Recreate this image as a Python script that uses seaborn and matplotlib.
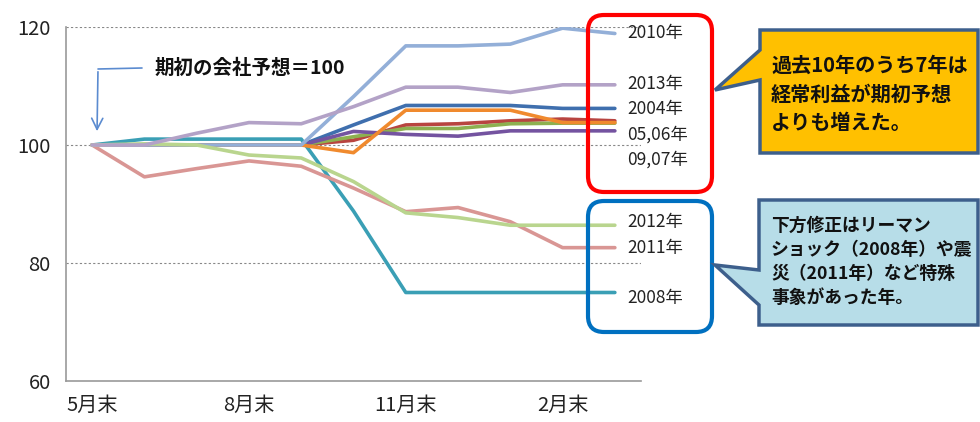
import numpy as np
import pandas as pd
import matplotlib
matplotlib.use("Agg")
import matplotlib.pyplot as plt
import seaborn as sns
from matplotlib.patches import FancyBboxPatch, Polygon, FancyArrowPatch

# ---- data ----
months = ["5月末", "6月末", "7月末", "8月末", "9月末", "10月末", "11月末", "12月末", "1月末", "2月末", "3月末"]
shown_ticks = ["5月末", "8月末", "11月末", "2月末"]

y2004 = [100, 100, 100, 100, 100, 103.4, 106.7, 106.7, 106.7, 106.2, 106.2]
y2005 = [100, 100, 100, 100, 100, 100.8, 103.4, 103.6, 104.1, 104.4, 104.1]
y2006 = [100, 100, 100, 100, 100, 101.4, 102.8, 102.8, 103.6, 103.7, 103.7]
y2007 = [100, 100, 100, 100, 100, 102.3, 101.8, 101.5, 102.4, 102.4, 102.4]
y2008 = [100, 101, 101, 101, 101, 88.8, 75.0, 75.0, 75.0, 75.0, 75.0]
y2009 = [100, 100, 100, 100, 100, 98.7, 105.9, 105.9, 105.9, 103.8, 103.8]
y2010 = [100, 100, 100, 100, 100, 108.2, 116.8, 116.8, 117.1, 119.8, 118.9]
y2011 = [100, 94.6, 96.0, 97.3, 96.4, 92.7, 88.7, 89.4, 87.0, 82.6, 82.6]
y2012 = [100, 100.2, 100, 98.3, 97.8, 93.8, 88.5, 87.7, 86.4, 86.4, 86.4]
y2013 = [100, 100, 102.0, 103.8, 103.6, 106.5, 109.8, 109.8, 108.9, 110.2, 110.2]

series = {
    "2004": y2004, "2005": y2005, "2006": y2006, "2007": y2007, "2008": y2008,
    "2009": y2009, "2010": y2010, "2011": y2011, "2012": y2012, "2013": y2013,
}
colors = {
    "2004": "#3F6FAE", "2005": "#B84440", "2006": "#8DB050", "2007": "#7453A0",
    "2008": "#3A9FB5", "2009": "#F08A2E", "2010": "#93AFD8", "2011": "#D99694",
    "2012": "#B9D58E", "2013": "#B3A2C7",
}

rows = []
for yr, vals in series.items():
    for i, v in enumerate(vals):
        rows.append({"year": yr, "pos": i, "value": v})
df = pd.DataFrame(rows)

# ---- figure ----
sns.set_style("white")
plt.rcParams["font.family"] = ["Noto Sans CJK JP", "DejaVu Sans"]

W, H = 980, 422
fig = plt.figure(figsize=(W / 100, H / 100), dpi=100)
ax = fig.add_axes([66 / W, 1 - 381 / H, (641 - 66) / W, (381 - 27) / H])

sns.lineplot(data=df, x="pos", y="value", hue="year", palette=colors,
             linewidth=2.6, legend=False, ax=ax, sort=False)

ax.set_xlim(-0.5, len(months) - 0.5)
ax.set_ylim(60, 120)
ax.set_yticks([60, 80, 100, 120])
ax.set_yticklabels(["60", "80", "100", "120"], fontsize=14.5, color="#222222")
ax.set_xticks([months.index(m) for m in shown_ticks])
ax.set_xticklabels(shown_ticks, fontsize=14.5, color="#222222")
ax.set_xticks(np.arange(-0.5, len(months), 1.0), minor=True)
ax.tick_params(axis="x", which="major", length=0, pad=10)
ax.tick_params(axis="x", which="minor", length=6, color="#999999", width=1, direction="out")
ax.tick_params(axis="y", length=7, color="#999999", width=1, direction="out", pad=4)
ax.set_xlabel("")
ax.set_ylabel("")
for y in [80, 100, 120]:
    ax.axhline(y, color="#888888", lw=0.8, ls=(0, (2, 2)), zorder=0)
for s in ["top", "right"]:
    ax.spines[s].set_visible(False)
for s in ["left", "bottom"]:
    ax.spines[s].set_color("#999999")
    ax.spines[s].set_linewidth(1.2)

# ---- overlay in pixel coordinates ----
ov = fig.add_axes([0, 0, 1, 1], facecolor="none")
ov.set_xlim(0, W)
ov.set_ylim(H, 0)
ov.axis("off")

# arrow annotation
ov.plot([142, 98], [68, 69], color="#5B8BD0", lw=1.2)
ov.add_patch(FancyArrowPatch((98, 69), (97, 134), arrowstyle="->,head_width=4,head_length=8",
                             color="#5B8BD0", lw=1.2, mutation_scale=1))
ov.text(155, 68, "期初の会社予想＝100", fontsize=14, fontweight="bold", va="center", ha="left",
        color="#111111")

# red and blue rounded boxes
ov.add_patch(FancyBboxPatch((588, 15), 124, 177, boxstyle="round,pad=0,rounding_size=16",
                            fill=False, ec="#FF0000", lw=3))
ov.add_patch(FancyBboxPatch((588, 201), 124, 131, boxstyle="round,pad=0,rounding_size=16",
                            fill=False, ec="#0070C0", lw=3))

# year labels
labels = [("2010年", 33), ("2013年", 84), ("2004年", 109), ("05,06年", 135), ("09,07年", 160),
          ("2012年", 222), ("2011年", 248), ("2008年", 298)]
for t, yy in labels:
    ov.text(627, yy, t, fontsize=12.5, va="center", ha="left", color="#222222")

# orange callout
ov.add_patch(Polygon([(760, 30), (978, 30), (978, 153), (760, 153), (760, 80), (715, 90), (760, 50)],
                     closed=True, fc="#FFC000", ec="#3D5F8C", lw=2.5, joinstyle="miter"))
ov.text(771, 94, "過去10年のうち7年は\n経常利益が期初予想\nよりも増えた。", fontsize=14.5,
        fontweight="bold", va="center", ha="left", color="#111111", linespacing=1.45)

# light blue callout
ov.add_patch(Polygon([(759, 200), (978, 200), (978, 325), (759, 325), (759, 305), (715, 265), (759, 270)],
                     closed=True, fc="#B7DDE8", ec="#3D5F8C", lw=2.5, joinstyle="miter"))
ov.text(771, 262, "下方修正はリーマン\nショック（2008年）や震\n災（2011年）など特殊\n事象があった年。",
        fontsize=12.8, fontweight="bold", va="center", ha="left", color="#111111", linespacing=1.45)

fig.savefig("out.png", dpi=100)
